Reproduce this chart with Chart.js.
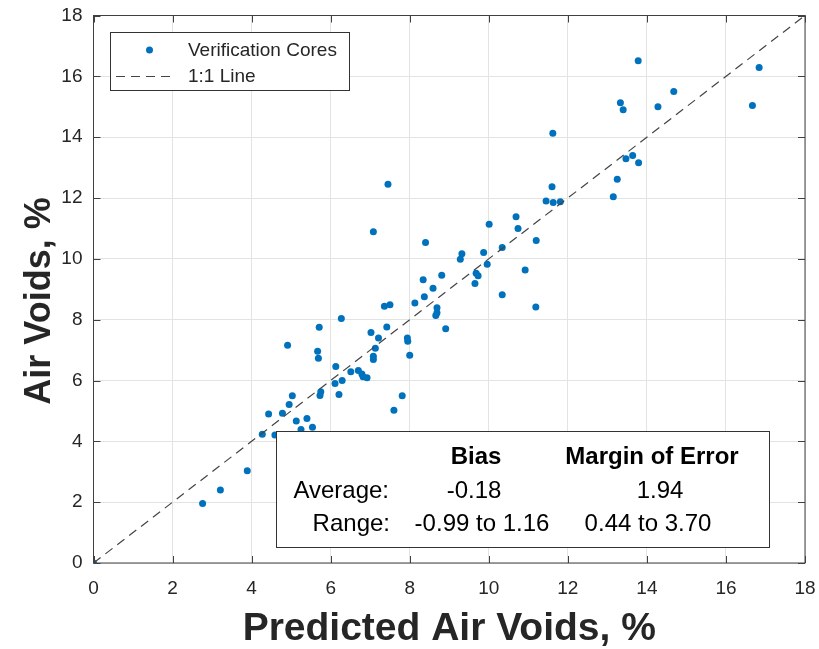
<!DOCTYPE html>
<html><head><meta charset="utf-8">
<script src="https://cdn.jsdelivr.net/npm/chart.js@4.4.1/dist/chart.umd.min.js"></script>
<style>html,body{margin:0;padding:0;background:#fff}#wrap{width:819px;height:649px}</style>
</head><body><div id="wrap"><canvas id="c" width="819" height="649"></canvas></div>
<script>
// ---- data ----
const predicted = [0, 2.76, 3.21, 3.89, 4.27, 4.59, 4.43, 4.78, 4.95, 5.03, 5.13, 5.40, 5.25, 5.54, 5.73, 5.75, 6.11, 6.29, 6.21, 4.91, 5.71, 5.67, 5.69, 6.27, 6.13, 6.51, 6.70, 6.79, 6.82, 6.92, 7.08, 7.08, 7.13, 7.21, 7.02, 7.42, 7.36, 7.50, 7.94, 7.95, 8.00, 7.81, 7.60, 7.08, 7.45, 8.40, 10.01, 10.69, 10.74, 11.20, 9.32, 9.28, 9.87, 10.34, 9.96, 9.68, 9.73, 9.65, 10.92, 10.34, 11.19, 8.34, 8.81, 8.59, 8.37, 8.13, 8.69, 8.69, 8.66, 8.91, 11.45, 11.63, 11.81, 11.62, 11.60, 13.15, 13.25, 13.33, 13.40, 13.78, 13.47, 13.64, 13.79, 14.28, 14.68, 16.84, 16.67];
const measured  = [0, 1.96, 2.40, 3.03, 4.23, 4.21, 4.90, 4.92, 5.21, 5.50, 4.67, 4.75, 4.39, 4.46, 5.51, 5.63, 5.90, 6.00, 5.54, 7.16, 7.75, 6.96, 6.73, 8.04, 6.46, 6.29, 6.33, 6.21, 6.12, 6.09, 6.80, 6.69, 7.06, 7.40, 7.58, 7.76, 8.44, 8.49, 7.40, 7.29, 6.83, 5.50, 5.02, 10.89, 12.45, 10.54, 11.14, 11.38, 11.00, 10.60, 10.17, 9.99, 10.21, 10.37, 9.82, 9.53, 9.44, 9.19, 9.63, 8.82, 8.42, 9.31, 9.46, 9.03, 8.75, 8.55, 8.39, 8.23, 8.14, 7.70, 11.90, 11.85, 11.88, 14.13, 12.37, 12.04, 12.62, 15.13, 14.90, 16.51, 13.29, 13.40, 13.16, 15.00, 15.50, 16.29, 15.04];
const oneToOne = [0, 18];
const axisMin = 0, axisMax = 18, axisStep = 2;
const legendLabels = ['Verification Cores', '1:1 Line'];
const statsHeaders = ['Bias', 'Margin of Error'];
const statsRows = ['Average:', 'Range:'];
const biasValues = ['-0.18', '-0.99 to 1.16'];
const moeValues = ['1.94', '0.44 to 3.70'];
const xTitle = 'Predicted Air Voids, %';
const yTitle = 'Air Voids, %';

const BLUE = '#0072BD';
const AXIS = '#404040';
const TXT = '#262626';
const DASH = '#444';
const FONT = '"Liberation Sans", Arial, Helvetica, sans-serif';

const decor = {
  id: 'decor',
  afterDatasetsDraw(chart) {
    const {ctx, chartArea: a, scales: {x, y}} = chart;
    ctx.save();
    // frame
    ctx.strokeStyle = AXIS; ctx.lineWidth = 1;
    ctx.strokeRect(a.left, a.top, a.right - a.left, a.bottom - a.top);
    // inward ticks on all sides
    const tl = 7;
    ctx.beginPath();
    x.ticks.forEach(t => {
      const px = Math.round(x.getPixelForValue(t.value)) + 0.5;
      ctx.moveTo(px, a.bottom); ctx.lineTo(px, a.bottom - tl);
      ctx.moveTo(px, a.top); ctx.lineTo(px, a.top + tl);
    });
    y.ticks.forEach(t => {
      const py = Math.round(y.getPixelForValue(t.value)) + 0.5;
      ctx.moveTo(a.left, py); ctx.lineTo(a.left + tl, py);
      ctx.moveTo(a.right, py); ctx.lineTo(a.right - tl, py);
    });
    ctx.stroke();

    // legend
    const lx = 110.5, ly = 32.5, lw = 239, lh = 58;
    ctx.fillStyle = '#fff'; ctx.fillRect(lx, ly, lw, lh);
    ctx.strokeStyle = '#333'; ctx.strokeRect(lx, ly, lw, lh);
    ctx.fillStyle = BLUE;
    ctx.beginPath(); ctx.arc(149.5, 50, 3.5, 0, Math.PI * 2); ctx.fill();
    ctx.strokeStyle = DASH; ctx.setLineDash([9, 6]); ctx.lineWidth = 1.2;
    ctx.beginPath(); ctx.moveTo(116, 76.5); ctx.lineTo(174, 76.5); ctx.stroke();
    ctx.setLineDash([]); ctx.lineWidth = 1;
    ctx.fillStyle = TXT; ctx.font = '19px ' + FONT;
    ctx.textAlign = 'left'; ctx.textBaseline = 'middle';
    ctx.fillText(legendLabels[0], 188, 51);
    ctx.fillText(legendLabels[1], 188, 77);

    // stats box
    const bx = 276.5, by = 431.5, bw = 493, bh = 116;
    ctx.fillStyle = '#fff'; ctx.fillRect(bx, by, bw, bh);
    ctx.strokeStyle = '#333'; ctx.strokeRect(bx, by, bw, bh);
    ctx.fillStyle = '#000';
    ctx.textBaseline = 'middle';
    ctx.font = 'bold 24px ' + FONT; ctx.textAlign = 'center';
    ctx.fillText(statsHeaders[0], 476, 457);
    ctx.fillText(statsHeaders[1], 652, 457);
    ctx.font = '24px ' + FONT;
    ctx.textAlign = 'right';
    ctx.fillText(statsRows[0], 389, 491);
    ctx.fillText(statsRows[1], 390, 524);
    ctx.textAlign = 'center';
    ctx.fillText(biasValues[0], 474, 491);
    ctx.fillText(moeValues[0], 660, 491);
    ctx.fillText(biasValues[1], 482, 524);
    ctx.fillText(moeValues[1], 648, 524);

    // axis titles
    ctx.fillStyle = TXT;
    ctx.textAlign = 'center'; ctx.textBaseline = 'middle';
    ctx.font = 'bold 39px ' + FONT;
    ctx.fillText(xTitle, (a.left + a.right) / 2, 629);
    ctx.font = 'bold 36px ' + FONT;
    ctx.translate(40, 301); ctx.rotate(-Math.PI / 2);
    ctx.fillText(yTitle, 0, 0);
    ctx.restore();
  }
};

new Chart(document.getElementById('c'), {
  data: {
    datasets: [
      {
        type: 'line', label: legendLabels[1],
        data: oneToOne.map(v => ({x: v, y: v})),
        borderColor: DASH, borderWidth: 1.2, borderDash: [9, 6],
        pointRadius: 0, fill: false, order: 0
      },
      {
        type: 'scatter', label: legendLabels[0],
        data: predicted.map((p, i) => ({x: p, y: measured[i]})),
        backgroundColor: BLUE, borderWidth: 0, pointRadius: 3.5, order: 1
      }
    ]
  },
  options: {
    responsive: false, animation: false,
    layout: {padding: {left: 0, right: 14, top: 15.5, bottom: 0}},
    plugins: {legend: {display: false}, tooltip: {enabled: false}},
    scales: {
      x: {
        type: 'linear', min: axisMin, max: axisMax,
        ticks: {stepSize: axisStep, color: TXT, font: {family: FONT, size: 19}, padding: 14, maxRotation: 0},
        grid: {color: '#e3e3e3', drawTicks: false},
        border: {display: false},
        afterFit(s) { s.height = 86; s.paddingLeft = 0; s.paddingRight = 0; }
      },
      y: {
        type: 'linear', min: axisMin, max: axisMax,
        ticks: {stepSize: axisStep, color: TXT, font: {family: FONT, size: 19}, padding: 11},
        grid: {color: '#e3e3e3', drawTicks: false},
        border: {display: false},
        afterFit(s) { s.width = 93.5; s.paddingTop = 0; s.paddingBottom = 0; }
      }
    }
  },
  plugins: [decor]
});
</script>
</body></html>
